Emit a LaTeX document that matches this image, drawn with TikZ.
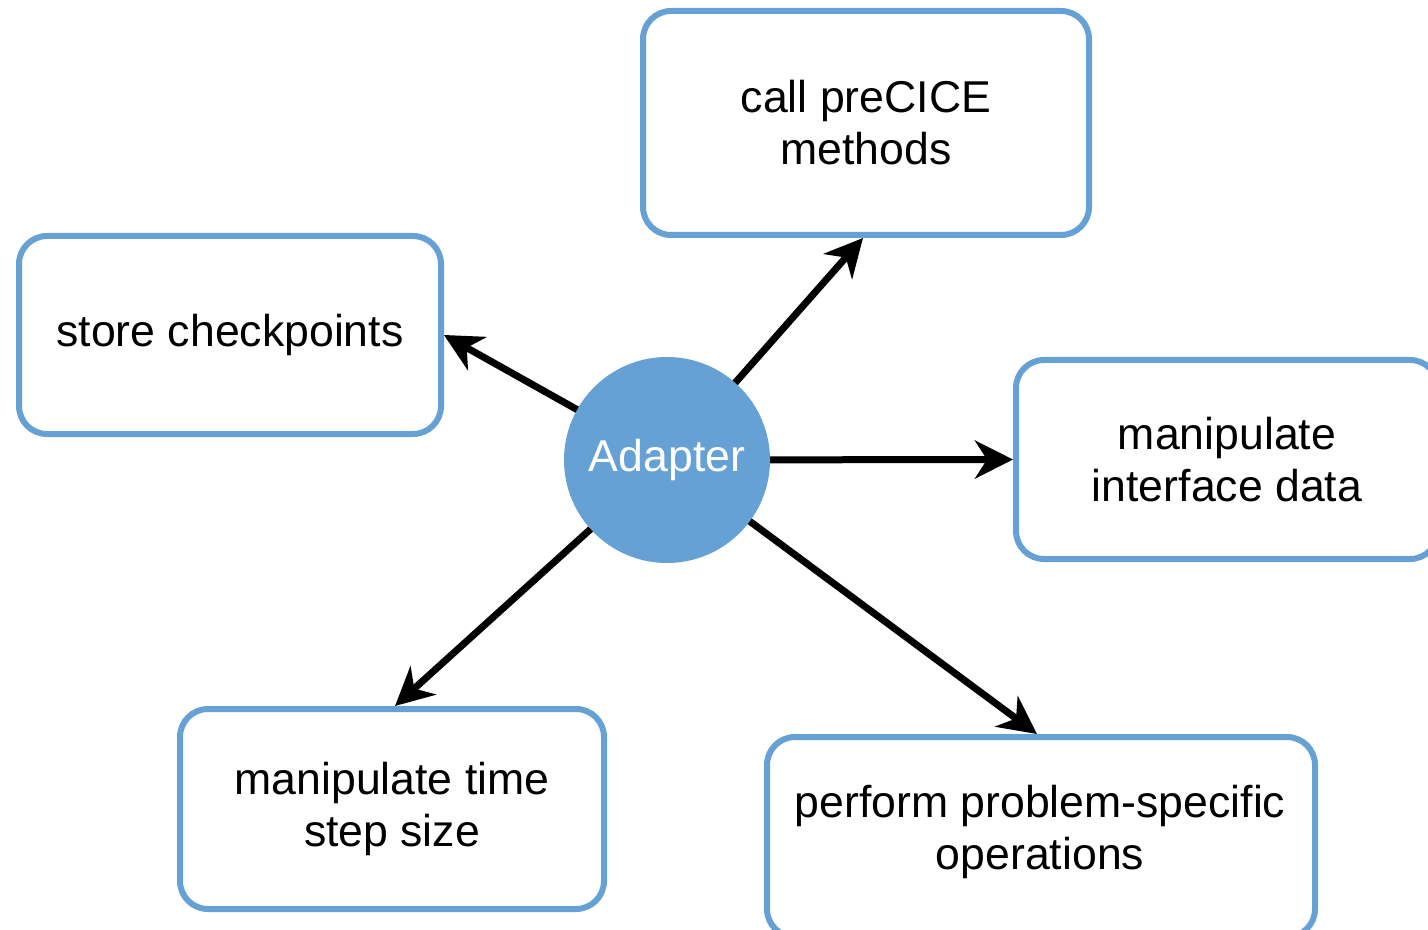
\documentclass[tikz,border=0pt]{standalone}
\usepackage{fontspec}
\setmainfont{Liberation Sans}
\usetikzlibrary{arrows.meta}
\definecolor{boxblue}{RGB}{102,161,213}
\tikzset{
  box/.style={draw=boxblue, line width=3pt, rounded corners=14pt, fill=white,
    align=center, inner sep=0pt, font=\fontsize{22.3pt}{26pt}\selectfont},
  hub/.style={circle, fill=boxblue, draw=none, inner sep=0pt, outer sep=0pt,
    minimum size=103pt, text=white, font=\fontsize{22.3pt}{26pt}\selectfont},
  arr/.style={line width=3.5pt, -{Stealth[length=19pt, width=19pt, inset=6pt]}}
}
\begin{document}
\begin{tikzpicture}[x=0.5pt, y=-0.5pt]
\useasboundingbox (0,0) rectangle (1428,930);
\clip (0,0) rectangle (1428,930);
\node[box, minimum width=223pt, minimum height=112pt] (call) at (866,123) {call preCICE\\methods};
\node[box, minimum width=211pt, minimum height=99pt] (store) at (230,335) {store checkpoints};
\node[box, minimum width=211pt, minimum height=99.5pt] (iface) at (1227,459.5) {manipulate\\interface data};
\node[box, minimum width=212pt, minimum height=100pt] (time) at (392,809) {manipulate time\\step size};
\node[box, minimum width=274pt, minimum height=100pt] (perf) at (1041,837) {};
\node[font=\fontsize{22.3pt}{26pt}\selectfont, align=center, inner sep=0pt] (perftext) at (1040,832) {perform problem-specific\\operations};
\node[hub] (ad) at (667,460) {Adapter};
\draw[arr] (ad) -- (call.south -| 863,0);
\draw[arr] (ad) -- (store.east);
\draw[arr] (ad) -- (iface.west);
\draw[arr] (ad) -- (time.north -| 395,0);
\draw[arr] (ad) -- (perf.north -| 1037,0);
\end{tikzpicture}
\end{document}
